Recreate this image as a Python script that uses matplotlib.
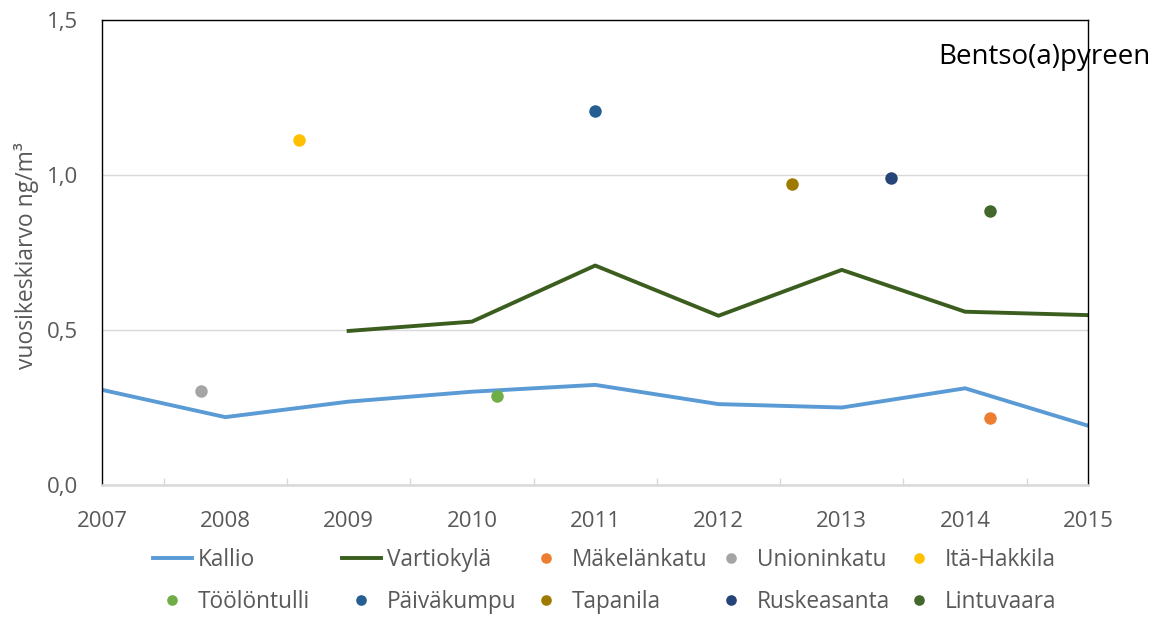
import numpy as np
import matplotlib
matplotlib.use('Agg')
import matplotlib.pyplot as plt
from matplotlib.ticker import FixedLocator, FuncFormatter

plt.rcParams['font.family'] = ['Open Sans', 'DejaVu Sans']

# data
years = [2007, 2008, 2009, 2010, 2011, 2012, 2013, 2014, 2015]
kallio = [0.307, 0.219, 0.269, 0.301, 0.323, 0.261, 0.250, 0.312, 0.191]

vartiokyla_years = [2009, 2010, 2011, 2012, 2013, 2014, 2015]
vartiokyla = [0.497, 0.527, 0.708, 0.546, 0.694, 0.559, 0.548]

stations = ['Mäkelänkatu', 'Unioninkatu', 'Itä-Hakkila', 'Töölöntulli', 'Päiväkumpu',
            'Tapanila', 'Ruskeasanta', 'Lintuvaara']
station_x = [2014.2, 2007.8, 2008.6, 2010.2, 2011.0, 2012.6, 2013.4, 2014.2]
station_y = [0.215, 0.304, 1.114, 0.286, 1.208, 0.970, 0.990, 0.883]
station_colors = ['#ED7D31', '#A5A5A5', '#FFC000', '#70AD47', '#255E91',
                  '#9E7A00', '#264478', '#43682B']

ytick_vals = [0.0, 0.5, 1.0, 1.5]

fig = plt.figure(figsize=(11.58, 6.17), dpi=100)
ax = fig.add_axes([0.0881, 0.2139, 0.8518, 0.7537])

handles = {}
handles['Kallio'], = ax.plot(years, kallio, color='#5B9BD5', lw=2.8, label='Kallio')
handles['Vartiokylä'], = ax.plot(vartiokyla_years, vartiokyla, color='#3B5E1F', lw=2.8,
                                 label='Vartiokylä')
for name, x, y, c in zip(stations, station_x, station_y, station_colors):
    handles[name], = ax.plot([x], [y], 'o', color=c, ms=9, mec='none', label=name, lw=0)

ax.set_xlim(2007, 2015)
ax.set_ylim(0, 1.5)
ax.set_xticks(years)
ax.set_xticks(np.arange(2007.5, 2015, 1), minor=True)
ax.yaxis.set_major_locator(FixedLocator(ytick_vals))
ax.yaxis.set_major_formatter(FuncFormatter(lambda v, p: ('%.1f' % v).replace('.', ',')))

ax.tick_params(axis='both', which='major', length=0, labelsize=16, labelcolor='#595959')
ax.tick_params(axis='y', pad=17)
ax.tick_params(axis='x', pad=19)
ax.tick_params(axis='x', which='minor', direction='in', length=5, width=1, color='#D9D9D9')

ax.grid(axis='y', color='#D9D9D9', lw=1)
ax.set_axisbelow(True)
for s in ['left', 'top', 'right']:
    ax.spines[s].set_color('#000000')
    ax.spines[s].set_linewidth(1.0)
ax.spines['bottom'].set_color('#D9D9D9')
ax.spines['bottom'].set_linewidth(1.8)

ax.set_ylabel('vuosikeskiarvo ng/m³', fontsize=16.5, color='#595959')
ax.yaxis.set_label_coords(-0.064, 0.4925)

fig.text(0.8105, 0.8963, 'Bentso(a)pyreen', fontsize=20, color='#000000',
         va='baseline', ha='left')

# legend: five columns, two rows
columns = [['Kallio', 'Töölöntulli'], ['Vartiokylä', 'Päiväkumpu'],
           ['Mäkelänkatu', 'Tapanila'], ['Unioninkatu', 'Ruskeasanta'],
           ['Itä-Hakkila', 'Lintuvaara']]
col_left = [152.75, 341.75, 526.75, 711.75, 899.75]
for names, xl in zip(columns, col_left):
    leg = fig.legend([handles[n] for n in names], names, loc='center left',
                     bbox_to_anchor=(xl / 1158, 1 - 581 / 617), frameon=False,
                     fontsize=16.3, labelcolor='#595959', handlelength=1.73,
                     handletextpad=0.27, labelspacing=0.8, borderpad=0,
                     borderaxespad=0, markerscale=0.85)

fig.savefig('out.png', dpi=100)
